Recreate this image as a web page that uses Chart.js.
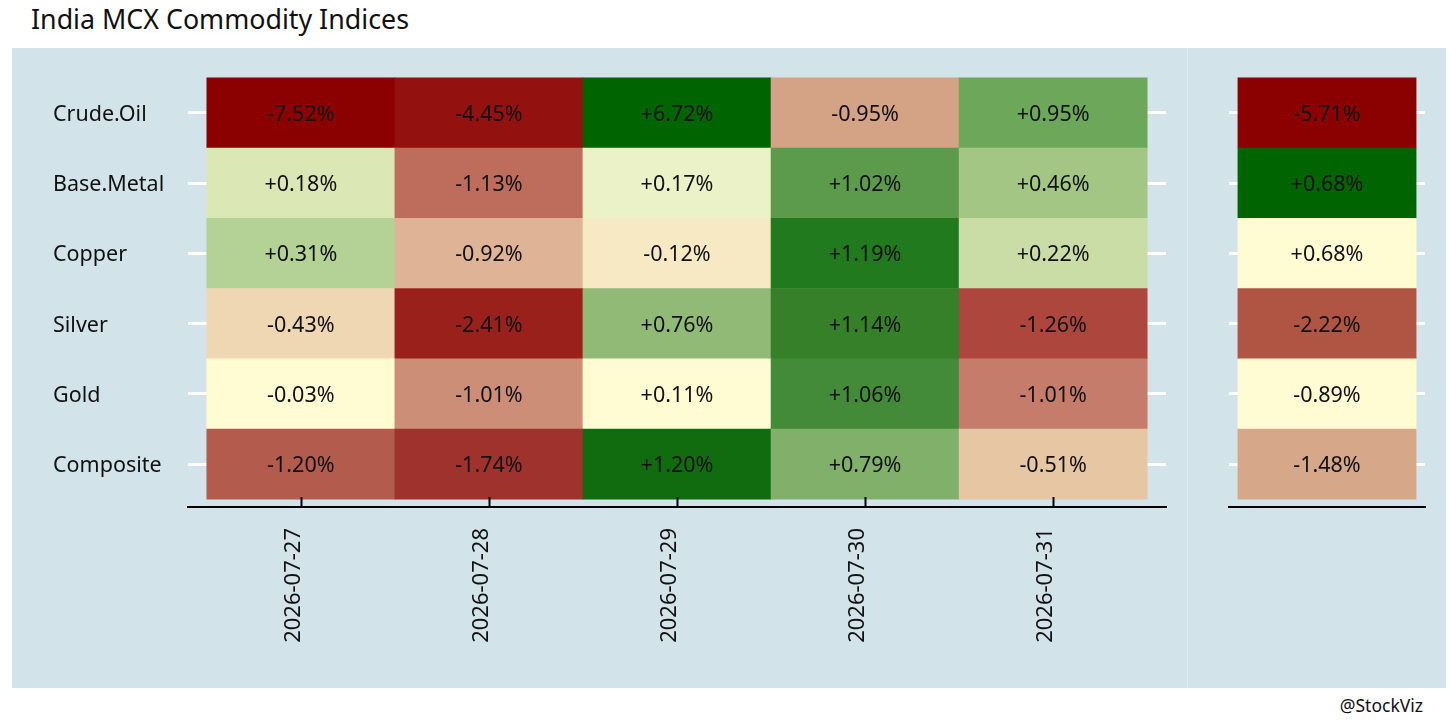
<!DOCTYPE html>
<html>
<head>
<meta charset="utf-8">
<script src="https://cdn.jsdelivr.net/npm/chart.js@4"></script>
<style>
  body { margin: 0; width: 1456px; height: 728px; background: #fff; position: relative; overflow: hidden; font-family: "Noto Sans", sans-serif; }
  #title { position: absolute; left: 31px; top: 6px; font-size: 26.8px; line-height: 1; color: #111; }
  #caption { position: absolute; right: 33px; top: 697px; font-size: 17.5px; line-height: 1; color: #111; }
  .panel { position: absolute; top: 48px; height: 640px; background: #d3e3ea; }
  #leftPanel { left: 12px; width: 1175px; border-right: 1px solid #e1ebef; }
  #rightPanel { left: 1188px; width: 258px; }
</style>
</head>
<body>
<div id="title">India MCX Commodity Indices</div>
<div class="panel" id="leftPanel"><canvas id="dailyChart"></canvas></div>
<div class="panel" id="rightPanel"><canvas id="weekChart"></canvas></div>
<div id="caption">@StockViz</div>
<script>
// data (daily % change per index)
const dates = ["2026-07-27", "2026-07-28", "2026-07-29", "2026-07-30", "2026-07-31"];
const commodities = ["Crude.Oil", "Base.Metal", "Copper", "Silver", "Gold", "Composite"];
const crudeOil  = [-7.52, -4.45,  6.72, -0.95,  0.95];
const baseMetal = [ 0.18, -1.13,  0.17,  1.02,  0.46];
const copper    = [ 0.31, -0.92, -0.12,  1.19,  0.22];
const silver    = [-0.43, -2.41,  0.76,  1.14, -1.26];
const gold      = [-0.03, -1.01,  0.11,  1.06, -1.01];
const composite = [-1.20, -1.74,  1.20,  0.79, -0.51];
const weekTotal = [-5.71,  0.68,  0.68, -2.22, -0.89, -1.48];

const rows = [crudeOil, baseMetal, copper, silver, gold, composite];

// tile fills
const tileColors = [
  ["#8b0000", "#93110e", "#006400", "#d4a285", "#6da75a"],
  ["#dbe8b5", "#be6c5c", "#ecf2c7", "#5c9b4c", "#a3c685"],
  ["#b5d296", "#deb396", "#f6e9c4", "#217a1e", "#cbdda6"],
  ["#efd7b3", "#9a211b", "#91ba77", "#358029", "#ad473d"],
  ["#fffcd3", "#cd8e77", "#fffcd3", "#448b39", "#c57c6a"],
  ["#b35b4c", "#a0322d", "#116b0f", "#80b069", "#e7c6a3"]
];
const weekColors = ["#8b0000", "#006400", "#fffcd3", "#b05444", "#fffcd3", "#d6a788"];

const FONT = "Noto Sans";
const textColor = "#111";

function fmt(v) {
  return (v > 0 ? "+" : "") + v.toFixed(2) + "%";
}

// writes the value in the middle of each tile
const tileLabels = {
  id: "tileLabels",
  afterDatasetsDraw(chart) {
    const ctx = chart.ctx;
    ctx.save();
    ctx.font = "21.5px '" + FONT + "'";
    ctx.fillStyle = textColor;
    ctx.textAlign = "center";
    ctx.textBaseline = "middle";
    chart.data.datasets.forEach((ds, di) => {
      chart.getDatasetMeta(di).data.forEach((bar, i) => {
        const y = (bar.y + bar.base) / 2 + 2;
        ctx.fillText(fmt(ds.values[i]), bar.x, y);
      });
    });
    ctx.restore();
  }
};

// short tick marks pointing up from the x axis line
const upTicks = {
  id: "upTicks",
  afterDraw(chart) {
    const x = chart.scales.x;
    if (!x.options.ticks.display) return;
    const ctx = chart.ctx;
    ctx.save();
    ctx.strokeStyle = "#000";
    ctx.lineWidth = 2;
    x.ticks.forEach((t) => {
      const px = Math.round(x.getPixelForValue(t.value)) + 0.5;
      ctx.beginPath();
      ctx.moveTo(px, x.top);
      ctx.lineTo(px, x.top - 10);
      ctx.stroke();
    });
    ctx.restore();
  }
};

// build the tiles: one floating bar per cell
const dailyPoints = [], dailyValues = [], dailyFill = [];
rows.forEach((row, r) => {
  row.forEach((v, c) => {
    dailyPoints.push({ x: c, y: [r, r + 1] });
    dailyValues.push(v);
    dailyFill.push(tileColors[r][c]);
  });
});

const weekPoints = weekTotal.map((v, r) => ({ x: 0, y: [r, r + 1] }));

function yScale(showLabels, width) {
  return {
    type: "linear",
    reverse: true,
    min: -0.11,
    max: commodities.length + 0.11,
    afterBuildTicks: (scale) => {
      scale.ticks = commodities.map((_, i) => ({ value: i + 0.5 }));
    },
    afterFit: (scale) => { scale.width = width; },
    grid: { color: "#ffffff", lineWidth: 3, drawTicks: false },
    border: { display: false },
    ticks: {
      display: showLabels,
      crossAlign: "far",
      padding: 0,
      labelOffset: 2,
      color: textColor,
      font: { family: FONT, size: 21.5 },
      callback: (value) => commodities[Math.round(value - 0.5)]
    }
  };
}

function xScale(count, range, showLabels) {
  return {
    type: "linear",
    stacked: true,
    offset: false,
    bounds: "data",
    min: (count - 1) / 2 - range / 2,
    max: (count - 1) / 2 + range / 2,
    afterBuildTicks: (scale) => {
      scale.ticks = Array.from({ length: count }, (_, i) => ({ value: i }));
    },
    afterFit: (scale) => { scale.height = 181; },
    grid: { display: false, offset: false },
    border: { display: true, color: "#000", width: 2 },
    ticks: {
      display: showLabels,
      autoSkip: false,
      minRotation: 90,
      maxRotation: 90,
      padding: 13,
      labelOffset: -7,
      color: textColor,
      font: { family: FONT, size: 22 },
      callback: (value) => dates[Math.round(value)]
    }
  };
}

Chart.defaults.font.family = FONT;

const dailyRange = dates.length + 0.2;
new Chart(document.getElementById("dailyChart"), {
  type: "bar",
  data: {
    datasets: [{
      data: dailyPoints,
      values: dailyValues,
      backgroundColor: dailyFill,
      borderWidth: 0,
      barPercentage: 1,
      categoryPercentage: 1
    }]
  },
  options: {
    responsive: true,
    maintainAspectRatio: false,
    animation: false,
    layout: { padding: { left: 41, right: 21, top: 22, bottom: 0 } },
    plugins: { legend: { display: false }, tooltip: { enabled: false } },
    scales: {
      x: xScale(dates.length, dailyRange, true),
      y: yScale(true, 135)
    }
  },
  plugins: [tileLabels, upTicks]
});

const weekRange = 1.1;
new Chart(document.getElementById("weekChart"), {
  type: "bar",
  data: {
    datasets: [{
      data: weekPoints,
      values: weekTotal,
      backgroundColor: weekColors,
      borderWidth: 0,
      barPercentage: 1 / weekRange,
      categoryPercentage: 1,
      inflateAmount: 0.33
    }]
  },
  options: {
    responsive: true,
    maintainAspectRatio: false,
    animation: false,
    layout: { padding: { left: 41, right: 21, top: 22, bottom: 0 } },
    plugins: { legend: { display: false }, tooltip: { enabled: false } },
    scales: {
      x: xScale(1, weekRange, false),
      y: yScale(false, 0)
    }
  },
  plugins: [tileLabels, upTicks]
});
</script>
</body>
</html>
